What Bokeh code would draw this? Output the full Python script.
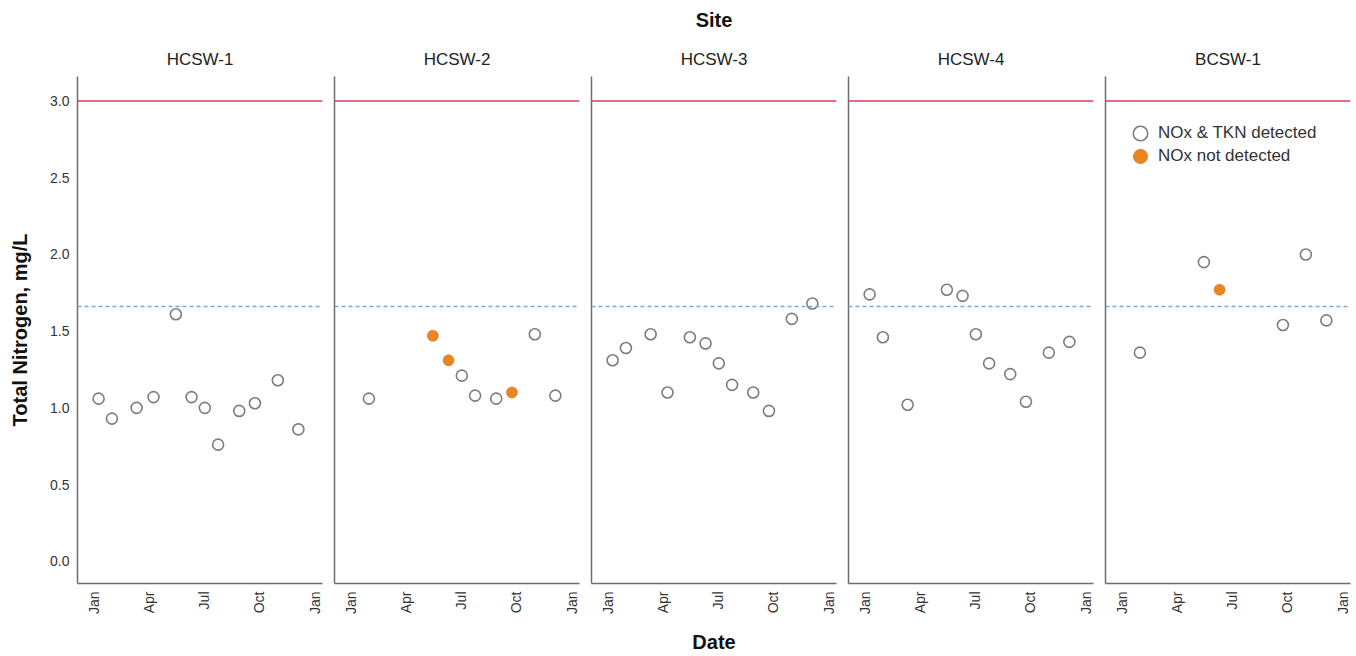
import numpy as np
import pandas as pd
from bokeh.plotting import figure
from bokeh.layouts import row
from bokeh.models import (Range1d, FixedTicker, DatetimeTickFormatter, Span, Legend,
                          LegendItem, Title, ColumnDataSource, NumeralTickFormatter)
from bokeh.embed import file_html
from bokeh.resources import INLINE

# ---------------- data ----------------
sites = ["HCSW-1", "HCSW-2", "HCSW-3", "HCSW-4", "BCSW-1"]

hcsw1_dates = ["2019-01-08", "2019-01-30", "2019-03-12", "2019-04-09", "2019-05-16", "2019-06-11",
               "2019-07-03", "2019-07-25", "2019-08-29", "2019-09-24", "2019-11-01", "2019-12-05"]
hcsw1_tn = [1.06, 0.93, 1.00, 1.07, 1.61, 1.07, 1.00, 0.76, 0.98, 1.03, 1.18, 0.86]
hcsw1_nox_nd = [0, 0, 0, 0, 0, 0, 0, 0, 0, 0, 0, 0]

hcsw2_dates = ["2019-01-30", "2019-05-16", "2019-06-11", "2019-07-03", "2019-07-25", "2019-08-29",
               "2019-09-24", "2019-11-01", "2019-12-05"]
hcsw2_tn = [1.06, 1.47, 1.31, 1.21, 1.08, 1.06, 1.10, 1.48, 1.08]
hcsw2_nox_nd = [0, 1, 1, 0, 0, 0, 1, 0, 0]

hcsw3_dates = ["2019-01-08", "2019-01-30", "2019-03-12", "2019-04-09", "2019-05-16", "2019-06-11",
               "2019-07-03", "2019-07-25", "2019-08-29", "2019-09-24", "2019-11-01", "2019-12-05"]
hcsw3_tn = [1.31, 1.39, 1.48, 1.10, 1.46, 1.42, 1.29, 1.15, 1.10, 0.98, 1.58, 1.68]
hcsw3_nox_nd = [0, 0, 0, 0, 0, 0, 0, 0, 0, 0, 0, 0]

hcsw4_dates = ["2019-01-08", "2019-01-30", "2019-03-12", "2019-05-16", "2019-06-11", "2019-07-03",
               "2019-07-25", "2019-08-29", "2019-09-24", "2019-11-01", "2019-12-05"]
hcsw4_tn = [1.74, 1.46, 1.02, 1.77, 1.73, 1.48, 1.29, 1.22, 1.04, 1.36, 1.43]
hcsw4_nox_nd = [0, 0, 0, 0, 0, 0, 0, 0, 0, 0, 0]

bcsw1_dates = ["2019-01-30", "2019-05-16", "2019-06-11", "2019-09-24", "2019-11-01", "2019-12-05"]
bcsw1_tn = [1.36, 1.95, 1.77, 1.54, 2.00, 1.57]
bcsw1_nox_nd = [0, 0, 1, 0, 0, 0]

site_dates = [hcsw1_dates, hcsw2_dates, hcsw3_dates, hcsw4_dates, bcsw1_dates]
site_tn = [hcsw1_tn, hcsw2_tn, hcsw3_tn, hcsw4_tn, bcsw1_tn]
site_nd = [hcsw1_nox_nd, hcsw2_nox_nd, hcsw3_nox_nd, hcsw4_nox_nd, bcsw1_nox_nd]

x_tick_dates = ["2019-01-01", "2019-04-01", "2019-07-01", "2019-10-01", "2020-01-01"]
y_ticks = [0.0, 0.5, 1.0, 1.5, 2.0, 2.5, 3.0]
upper_limit = 3.0
reference_level = 1.66

legend_labels = ["NOx & TKN detected", "NOx not detected"]

# ---------------- styling ----------------
FONT = "Liberation Sans"
AXIS_COLOR = "#6e6e6e"
TEXT_COLOR = "#333333"
RED = "#dc3b5b"
BLUE = "#74a9dc"
HOLLOW = "#7d7d7d"
ORANGE = "#e8871e"
ORANGE_LINE = "#e5692c"

x_start = pd.Timestamp("2018-12-04")
x_end = pd.Timestamp("2020-01-14")
tick_ms = [pd.Timestamp(d).value / 1e6 for d in x_tick_dates]

panels = []
for i, site in enumerate(sites):
    first = i == 0
    p = figure(width=328 if first else 257, height=656,
               x_axis_type="datetime",
               x_range=Range1d(x_start, x_end), y_range=Range1d(-0.145, 3.16),
               output_backend="svg", toolbar_location=None,
               min_border_left=77 if first else 6, min_border_right=6,
               min_border_top=76, min_border_bottom=73)
    p.outline_line_color = None
    p.xgrid.visible = False
    p.ygrid.visible = False
    p.background_fill_color = "white"
    p.border_fill_color = "white"

    site_title_kw = dict(align="center", text_font=FONT, text_font_size="17px",
                         text_font_style="normal", text_color="#222222", standoff=15)
    if i == 2:
        # outer (overall) title
        p.title.text = "Site"
        p.title.align = "center"
        p.title.vertical_align = "top"
        p.title.text_font = FONT
        p.title.text_font_size = "20px"
        p.title.text_font_style = "bold"
        p.title.text_color = "#111111"
        p.title.standoff = 15
        # panel title closest to the frame
        p.add_layout(Title(text=site, **site_title_kw), "above")
    else:
        p.title.text = site
        for k, v in site_title_kw.items():
            setattr(p.title, k, v)

    # x axis
    xa = p.xaxis[0]
    xa.ticker = FixedTicker(ticks=tick_ms)
    xa.formatter = DatetimeTickFormatter(years="%b", months="%b", days="%b", hours="%b",
                                         minutes="%b", seconds="%b", milliseconds="%b",
                                         microseconds="%b", boundary_scaling=False)
    xa.major_label_orientation = np.pi / 2
    xa.major_label_text_font = FONT
    xa.major_label_text_font_size = "14px"
    xa.major_label_text_color = TEXT_COLOR
    xa.major_label_standoff = 8
    xa.major_tick_out = 0
    xa.major_tick_in = 0
    xa.minor_tick_out = 0
    xa.minor_tick_in = 0
    xa.axis_line_color = AXIS_COLOR
    xa.axis_line_width = 1.5
    if i == 2:
        xa.axis_label = "Date"
        xa.axis_label_text_font = FONT
        xa.axis_label_text_font_size = "20px"
        xa.axis_label_text_font_style = "bold"
        xa.axis_label_text_color = "#111111"
        xa.axis_label_standoff = 14

    # y axis
    ya = p.yaxis[0]
    ya.major_tick_out = 0
    ya.major_tick_in = 0
    ya.minor_tick_out = 0
    ya.minor_tick_in = 0
    ya.axis_line_color = AXIS_COLOR
    ya.axis_line_width = 1.5
    if first:
        ya.ticker = FixedTicker(ticks=y_ticks)
        ya.formatter = NumeralTickFormatter(format="0.0")
        ya.major_label_text_font = FONT
        ya.major_label_text_font_size = "14px"
        ya.major_label_text_color = TEXT_COLOR
        ya.major_label_standoff = 8
        ya.axis_label = "Total Nitrogen, mg/L"
        ya.axis_label_text_font = FONT
        ya.axis_label_text_font_size = "20px"
        ya.axis_label_text_font_style = "bold"
        ya.axis_label_text_color = "#111111"
        ya.axis_label_standoff = 16
    else:
        ya.ticker = FixedTicker(ticks=[])
        ya.major_label_standoff = 0

    # reference lines
    p.add_layout(Span(location=upper_limit, dimension="width", line_color=RED, line_width=1.5))
    p.add_layout(Span(location=reference_level, dimension="width", line_color=BLUE,
                      line_width=1.5, line_dash="4 3"))

    dates = pd.to_datetime(site_dates[i])
    tn = np.array(site_tn[i])
    nd = np.array(site_nd[i]) == 1
    src_det = ColumnDataSource(dict(x=dates[~nd], y=tn[~nd]))
    src_nd = ColumnDataSource(dict(x=dates[nd], y=tn[nd]))
    r_det = p.scatter("x", "y", source=src_det, size=11, marker="circle",
                      fill_color="white", fill_alpha=0, line_color=HOLLOW, line_width=1.6)
    r_nd = p.scatter("x", "y", source=src_nd, size=11, marker="circle",
                     fill_color=ORANGE, line_color=ORANGE_LINE, line_width=1, line_alpha=0.6)

    if i == len(sites) - 1:
        leg_kw = dict(glyph_width=36, glyph_height=40, spacing=0, label_standoff=0,
                      padding=0, margin=0, border_line_color=None, background_fill_alpha=0,
                      label_text_font=FONT, label_text_font_size="17px",
                      label_text_color=TEXT_COLOR)
        leg1 = Legend(items=[LegendItem(label=legend_labels[0], renderers=[r_det])],
                      location=(17, 430), **leg_kw)
        leg2 = Legend(items=[LegendItem(label=legend_labels[1], renderers=[r_nd])],
                      location=(17, 407), **leg_kw)
        p.add_layout(leg1, "center")
        p.add_layout(leg2, "center")

    panels.append(p)

layout = row(*panels, spacing=0)
open("out.html", "w").write(file_html(layout, INLINE))
